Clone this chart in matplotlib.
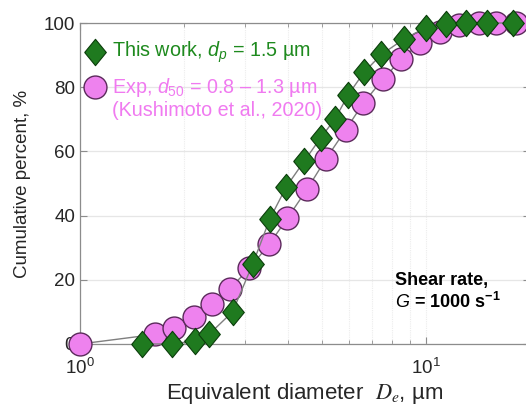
import matplotlib

matplotlib.use("Agg")
import matplotlib.pyplot as plt
from matplotlib.ticker import LogLocator, NullFormatter

plt.rcParams["font.family"] = ["Liberation Sans", "DejaVu Sans"]
plt.rcParams["mathtext.fontset"] = "custom"
plt.rcParams["mathtext.rm"] = "Liberation Sans"
plt.rcParams["mathtext.it"] = "Liberation Sans:italic"
plt.rcParams["mathtext.bf"] = "Liberation Sans:bold"

# this work (simulation), d_p = 1.5 um
sim_d = [1.51, 1.85, 2.15, 2.36, 2.76, 3.16, 3.54, 3.95, 4.45, 4.97,
         5.47, 5.96, 6.63, 7.44, 8.64, 9.98, 11.4, 13.1, 15.0, 17.9]
sim_cum = [0, 0, 1, 3, 10, 25, 39, 49, 57, 64.3,
           70.2, 77.6, 84.7, 90.2, 95, 98.5, 99.7, 100, 100, 100]

# experiment (Kushimoto et al., 2020)
exp_d = [1.0, 1.65, 1.87, 2.13, 2.40, 2.71, 3.09, 3.52, 3.98, 4.54, 5.13,
         5.86, 6.59, 7.50, 8.49, 9.64, 11.0, 12.5, 14.2, 16.0, 18.2]
exp_cum = [0, 3.0, 5.1, 8.5, 12.4, 17.2, 23.6, 31, 39.2, 48.3, 57.5,
           66.7, 75, 82.4, 88.7, 93.9, 97.3, 99.3, 100, 100, 100]

GREEN = "#1f7a1f"
GREEN_EDGE = "#0b3d0b"
GREEN_TXT = "#1e8a1e"
PINK = "#ee82ee"
PINK_EDGE = "#5b2a5b"
PINK_TXT = "#f07af0"
LINE = "#7f7f7f"

# slightly tall diamond, like the MATLAB one
diamond = [(-0.82, 0), (0, 1), (0.82, 0), (0, -1), (-0.82, 0)]
D_MS = 19
O_MS = 16.5

fig = plt.figure(figsize=(5.26, 4.17), dpi=100)
ax = fig.add_axes([80 / 526, 73 / 417, 450 / 526, 321 / 417])

ax.plot(exp_d, exp_cum, color=LINE, lw=1.0, marker="o", ms=O_MS,
        mfc=PINK, mec=PINK_EDGE, mew=1.0, clip_on=False, zorder=3)
ax.plot(sim_d, sim_cum, color=LINE, lw=1.0, marker=diamond, ms=D_MS,
        mfc=GREEN, mec=GREEN_EDGE, mew=0.8, clip_on=False, zorder=4)

ax.set_xscale("log")
ax.set_xlim(1, 20)
ax.set_ylim(0, 100)
ax.set_yticks([0, 20, 40, 60, 80, 100])
ax.xaxis.set_major_locator(LogLocator(base=10, numticks=5))
ax.xaxis.set_minor_locator(LogLocator(base=10, subs=range(2, 10), numticks=10))
ax.xaxis.set_minor_formatter(NullFormatter())

ax.grid(True, which="major", axis="y", color="#e6e6e6", lw=0.9)
ax.grid(True, which="both", axis="x", color="#ececec", lw=0.8, ls=(0, (1, 1)))
ax.set_axisbelow(True)

for s in ax.spines.values():
    s.set_color("#8c8c8c")
    s.set_linewidth(0.9)
ax.tick_params(which="both", direction="in", top=True, right=True,
               color="#8c8c8c", labelcolor="#262626", labelsize=13.5)
ax.tick_params(which="major", length=5)
ax.tick_params(which="minor", length=3)
ax.tick_params(axis="x", pad=10)

ax.set_ylabel("Cumulative percent, %", fontsize=13.5, color="#262626", labelpad=9)
ax.set_xlabel(r"Equivalent diameter  $D_e$, µm", fontsize=16, color="#262626",
              labelpad=2, math_fontfamily="stix")

# hand-made legend, as in the original
ax.plot([1.105], [91], marker=diamond, ms=D_MS, mfc=GREEN, mec=GREEN_EDGE,
        mew=0.8, ls="none", clip_on=False, zorder=5)
ax.plot([1.105], [80], marker="o", ms=O_MS, mfc=PINK, mec=PINK_EDGE,
        mew=1.0, ls="none", clip_on=False, zorder=5)
ax.text(1.235, 91, r"This work, $d_p$ = 1.5 µm", color=GREEN_TXT, fontsize=14.2,
        va="center", ha="left")
ax.text(1.235, 80, r"Exp, $d_{\mathit{50}}$ = 0.8 – 1.3 µm", color=PINK_TXT,
        fontsize=14.2, va="center", ha="left")
ax.text(1.235, 72.6, "(Kushimoto et al., 2020)", color=PINK_TXT, fontsize=14.2,
        va="center", ha="left")

ax.text(8.13, 19.8, "Shear rate,", fontsize=13, fontweight="bold", va="center")
ax.text(8.13, 13.0, r"$\mathbf{\mathit{G}}$ = 1000 s$^{\mathbf{-1}}$",
        fontsize=13, fontweight="bold", va="center")

fig.savefig("out.png", dpi=100)
